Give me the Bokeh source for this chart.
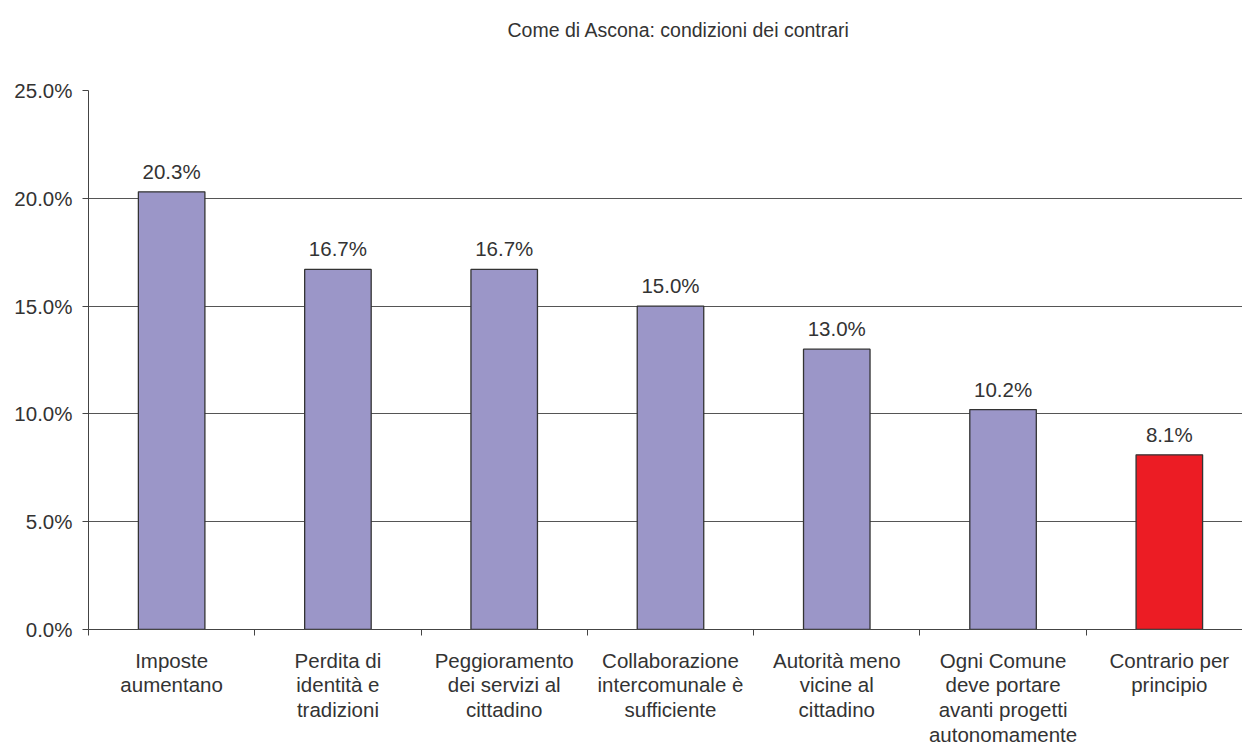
from bokeh.plotting import figure
from bokeh.models import ColumnDataSource, FixedTicker, NumeralTickFormatter, Range1d, LabelSet, Title
from bokeh.core.properties import value
from bokeh.embed import file_html
from bokeh.resources import INLINE

title_text = "Come di Ascona: condizioni dei contrari"
categories = [
    "Imposte\naumentano",
    "Perdita di\nidentità e\ntradizioni",
    "Peggioramento\ndei servizi al\ncittadino",
    "Collaborazione\nintercomunale è\nsufficiente",
    "Autorità meno\nvicine al\ncittadino",
    "Ogni Comune\ndeve portare\navanti progetti\nautonomamente",
    "Contrario per\nprincipio",
]
values = [0.203, 0.167, 0.167, 0.150, 0.130, 0.102, 0.081]
bar_colors = ["#9B96C8"] * 6 + ["#EC1C24"]
value_labels = ["20.3%", "16.7%", "16.7%", "15.0%", "13.0%", "10.2%", "8.1%"]
y_ticks = [0.0, 0.05, 0.10, 0.15, 0.20, 0.25]

FONT = "Liberation Sans"
TXT = "#333333"
FS = "20.5px"

xs = [i + 0.5 for i in range(len(categories))]
src = ColumnDataSource(dict(x=xs, top=values, color=bar_colors, lab=value_labels))

p = figure(width=1242, height=749, output_backend="svg", toolbar_location=None,
           x_range=Range1d(0, 6.94), y_range=Range1d(0, 0.25))
p.min_border_left = 88
p.min_border_right = 0
p.min_border_top = 90
p.min_border_bottom = 118
p.outline_line_color = None

# blank spacer panel next to the frame, then the real title above it
spacer = Title(text=" ", standoff=26, text_font=FONT, text_font_size="19.5px")
p.add_layout(spacer, "above")
t = Title(text=title_text, align="left", offset=419, standoff=0,
          vertical_align="bottom",
          text_font=FONT, text_font_style="normal", text_font_size="19.5px",
          text_color=TXT)
p.add_layout(t, "above")

p.vbar(x="x", top="top", width=0.4, bottom=0, fill_color="color",
       line_color="#333333", line_width=1.3, source=src)

labels = LabelSet(x="x", y="top", text="lab", source=src, text_align="center",
                  text_baseline="bottom", y_offset=9, text_font=value(FONT),
                  text_font_size=value(FS), text_color=TXT)
p.add_layout(labels)

# y axis
p.yaxis.ticker = FixedTicker(ticks=y_ticks)
p.yaxis.formatter = NumeralTickFormatter(format="0.0%")
p.yaxis.major_label_text_font = FONT
p.yaxis.major_label_text_font_size = FS
p.yaxis.major_label_text_color = TXT
p.yaxis.axis_line_color = "#444444"
p.yaxis.major_tick_line_color = "#444444"
p.yaxis.major_tick_out = 6
p.yaxis.major_tick_in = 0
p.yaxis.minor_tick_line_color = None
p.yaxis.major_label_standoff = 10

# x axis
p.xaxis.ticker = FixedTicker(ticks=xs, minor_ticks=list(range(len(categories) + 1)))
p.xaxis.major_label_overrides = {x: c for x, c in zip(xs, categories)}
p.xaxis.major_label_text_font = FONT
p.xaxis.major_label_text_font_size = FS
p.xaxis.major_label_text_color = TXT
p.xaxis.major_label_text_line_height = 1.08
p.xaxis.axis_line_color = "#444444"
p.xaxis.major_tick_line_color = None
p.xaxis.minor_tick_line_color = "#444444"
p.xaxis.minor_tick_out = 6
p.xaxis.minor_tick_in = 0
p.xaxis.major_label_standoff = 13

p.xgrid.grid_line_color = None
p.ygrid.ticker = FixedTicker(ticks=y_ticks)
p.ygrid.grid_line_color = "#555555"
p.ygrid.grid_line_width = 1

open("out.html", "w").write(file_html(p, INLINE))
